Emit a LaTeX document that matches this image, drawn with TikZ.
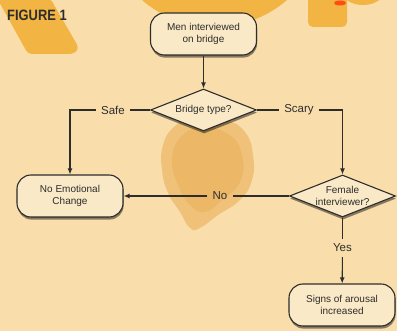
\documentclass[tikz,border=0pt]{standalone}
\usepackage{fontspec}
\setmainfont{Liberation Sans}
\usetikzlibrary{shapes.geometric,shadows,arrows.meta}
\definecolor{paper}{RGB}{249,222,172}
\definecolor{stain}{RGB}{242,180,66}
\definecolor{stainb}{RGB}{230,160,60}
\definecolor{ink}{RGB}{45,45,45}
\definecolor{boxfill}{RGB}{250,233,198}
\begin{document}
\begin{tikzpicture}[x=1pt,y=-1pt,
  shad/.style={drop shadow={shadow xshift=0.6pt, shadow yshift=-2.6pt, opacity=0.45, fill=black}},
  term/.style={draw=ink, line width=1.1pt, fill=boxfill, rounded corners=14pt,
    minimum width=106pt, minimum height=42pt, inner sep=0pt, align=center,
    font=\fontsize{10}{12}\selectfont, text=ink, shad},
  dec/.style={draw=ink, line width=1.1pt, fill=boxfill, diamond,
    minimum width=106pt, minimum height=42pt, inner sep=0pt, shad},
  dectext/.style={align=center, font=\fontsize{10}{12}\selectfont, text=ink, inner sep=0pt},
  lbl/.style={font=\fontsize{11.5}{13}\selectfont, text=ink, inner sep=5pt},
  conn/.style={draw=ink, line width=1.1pt},
  arr/.style={conn, -{Latex[length=6pt,width=5pt]}}
]
\useasboundingbox (0,0) rectangle (397,331);
\fill[paper] (0,0) rectangle (397,331);
\begin{scope}
\clip (0,0) rectangle (397,331);
% stains
\fill[stain, rounded corners=4pt] (-3,-2) -- (50,-2) -- (79,48) -- (74,54) -- (28,54) -- cycle;
\fill[stain] (214.5,-84) circle[radius=111];
\fill[stain, rounded corners=5pt] (308,-8) rectangle (347,27);
\fill[stain] (363,-25) circle[radius=30];
\fill[red!70!orange, opacity=0.7] (340,3) ellipse[x radius=6, y radius=2.5];
\fill[stainb, opacity=0.45] plot[smooth cycle, tension=0.8] coordinates {
  (195,117) (225,120) (245,132) (253,155) (252,180) (240,200) (218,215)
  (200,228) (190,228) (180,212) (168,193) (162,170) (163,145) (175,126)};
\fill[stainb, opacity=0.3] plot[smooth cycle, tension=0.8] coordinates {
  (200,128) (228,134) (242,155) (240,182) (222,200) (205,212) (190,205)
  (178,185) (172,160) (180,138)};
\end{scope}
% title
\node[anchor=base west, inner sep=0pt, text=ink] (title) at (7,21)
  {\scalebox{0.86}[1]{\fontsize{15}{15}\selectfont\bfseries FIGURE 1}};
% nodes
\node[term] (men) at (203.5,34) {Men interviewed\\on bridge};
\node[dec, label={[dectext]center:Bridge type?}] (bridge) at (203.5,110) {};
\node[term] (nec) at (70,196) {No Emotional\\Change};
\node[dec, label={[dectext]center:{Female\\interviewer?}}] (fem) at (342.5,196) {};
\node[term] (signs) at (342,305) {Signs of arousal\\increased};
% labels
\node[lbl] (safe) at (113,110) {Safe};
\node[lbl] (scary) at (299,110) {Scary};
\node[lbl] (no) at (220,196) {No};
\node[lbl] (yes) at (342.5,248) {Yes};
% connectors
\draw[arr] (men) -- (bridge);
\draw[conn] (bridge) -- (safe);
\draw[arr] (safe) -| (nec);
\draw[conn] (bridge) -- (scary);
\draw[arr] (scary) -| (fem);
\draw[conn] (fem) -- (no);
\draw[arr] (no) -- (nec);
\draw[conn] (fem) -- (yes);
\draw[arr] (yes) -- (signs);
\end{tikzpicture}
\end{document}
